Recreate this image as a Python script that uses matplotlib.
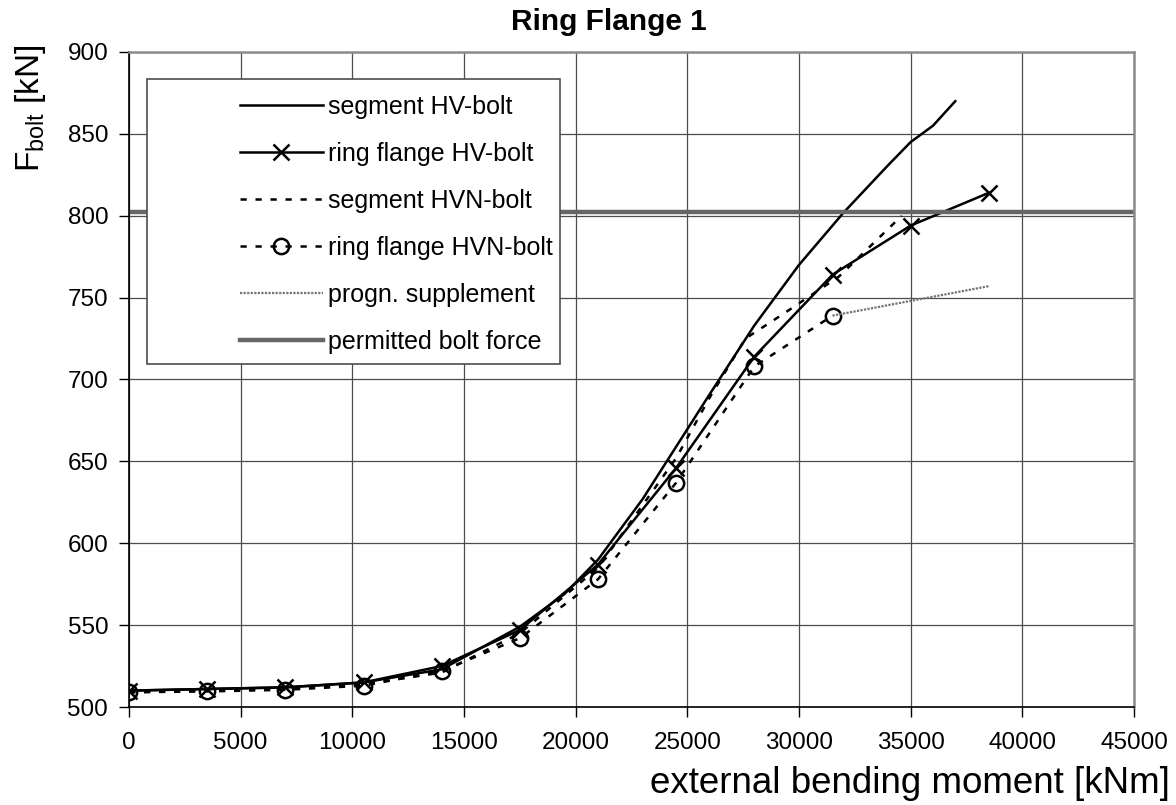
import matplotlib
matplotlib.use("Agg")
import matplotlib.pyplot as plt
from matplotlib.patches import Rectangle

plt.rcParams['font.family'] = ['Liberation Sans', 'DejaVu Sans']
plt.rcParams['mathtext.fontset'] = 'custom'
plt.rcParams['mathtext.rm'] = 'Liberation Sans'

# segment HV-bolt (no markers)
seg_hv_x = [0, 3500, 7000, 10500, 14000, 17500, 19500, 21000, 23000, 24500, 26000, 28000, 30000, 32000, 34000, 35000, 36000, 37000]
seg_hv_y = [510, 511, 512, 515, 523, 549, 569, 590, 627, 659, 691, 733, 770, 802, 831, 845, 855, 870]

# ring flange HV-bolt (x markers)
ring_hv_x = [0, 3500, 7000, 10500, 14000, 17500, 21000, 24500, 28000, 31500, 35000, 38500]
ring_hv_y = [510, 511, 512, 515, 525, 547, 587, 646, 714, 764, 794, 814]

# segment HVN-bolt (dashed)
seg_hvn_x = [0, 3500, 7000, 10500, 14000, 17500, 21000, 24500, 26000, 27600, 29400, 31800, 34600]
seg_hvn_y = [509, 510, 511, 514, 521, 545, 585, 652, 689, 725, 741, 763, 800]

# ring flange HVN-bolt (dashed, circles)
ring_hvn_x = [0, 3500, 7000, 10500, 14000, 17500, 21000, 24500, 28000, 31500]
ring_hvn_y = [509, 509.5, 510.5, 513, 522, 542, 578, 637, 708, 739]

# prognosis supplement
progn_x = [31500, 35000, 38500]
progn_y = [739, 748, 757]

permitted = 802

fig = plt.figure(figsize=(11.76, 8.05), dpi=100)
ax = fig.add_axes([129/1176, 1-707/805, (1134-129)/1176, (707-52)/805])

ax.plot(seg_hv_x, seg_hv_y, color='black', lw=1.8, label='segment HV-bolt')
ax.plot(ring_hv_x, ring_hv_y, color='black', lw=1.8, marker='x', ms=12, mew=1.8,
        label='ring flange HV-bolt')
ax.plot(seg_hvn_x, seg_hvn_y, color='black', lw=1.8, linestyle=(0, (2.5, 3.5)),
        label='segment HVN-bolt')
ax.plot(ring_hvn_x, ring_hvn_y, color='black', lw=1.8, linestyle=(0, (2.5, 3.5)),
        marker='o', ms=11, mew=1.8, mfc='none', label='ring flange HVN-bolt')
ax.plot(progn_x, progn_y, color='0.45', lw=1.6, linestyle=(0, (1, 0.6)),
        label='progn. supplement')
ax.axhline(permitted, color='0.4', lw=3.2, label='permitted bolt force')

ax.set_xlim(0, 45000)
ax.set_ylim(500, 900)
ax.set_xticks(range(0, 45001, 5000))
ax.set_yticks(range(500, 901, 50))
ax.grid(True, color='0.3', lw=0.9)
ax.set_axisbelow(True)
ax.tick_params(axis='both', direction='out', length=7, width=1, labelsize=17.5)
ax.tick_params(axis='x', pad=11)
ax.tick_params(axis='y', pad=8)
for s in ['left', 'bottom']:
    ax.spines[s].set_color('black')
    ax.spines[s].set_linewidth(1.2)
for s in ['top', 'right']:
    ax.spines[s].set_color('0.55')
    ax.spines[s].set_linewidth(1.8)

# legend box (Excel style, wide left margin)
box = Rectangle((147/1176, 1-364/805), (560-147)/1176, (364-79)/805,
                transform=fig.transFigure, facecolor='white', edgecolor='0.3',
                lw=1.2, zorder=5, clip_on=False)
ax.add_patch(box)
leg = ax.legend(loc='upper left', bbox_to_anchor=(240/1176, 1-95/805),
                bbox_transform=fig.transFigure, frameon=False, fontsize=18,
                handlelength=3.3, handletextpad=0.2, labelspacing=0.92,
                borderpad=0, borderaxespad=0)
leg.set_zorder(6)

fig.text(609/1176, 1-22/805, 'Ring Flange 1', ha='center', va='center',
         fontsize=21.5, fontweight='bold')
fig.text(31/1176, 1-108/805, r'F$_{\mathrm{bolt}}$ [kN]', rotation=90,
         ha='center', va='center', fontsize=24)
fig.text(1170/1176, 1-783/805, 'external bending moment [kNm]', ha='right',
         va='center', fontsize=26.5)

fig.savefig('out.png', dpi=100)
